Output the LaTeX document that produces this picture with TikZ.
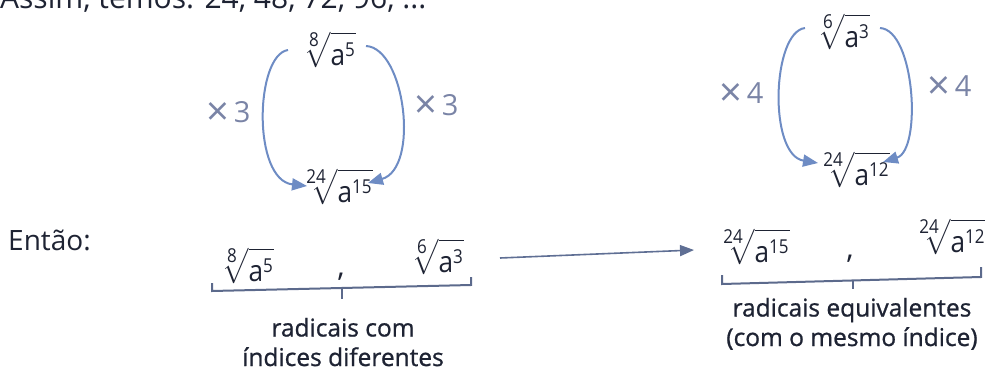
\documentclass[tikz,border=0pt]{standalone}
\usepackage{amsmath}
\usepackage{graphicx}
\usepackage{fontspec}
\setmainfont{Open Sans}
\newfontfamily\capfont[FakeBold=0.9]{Open Sans}
\usetikzlibrary{arrows.meta}
\definecolor{arr}{HTML}{6E8CC4}
\definecolor{lab}{HTML}{7A84A6}
\definecolor{ink}{HTML}{1E2333}
\definecolor{brk}{HTML}{5C6A8C}
\newcommand{\smalldig}[1]{\mbox{\fontsize{6.5}{7}\selectfont #1}}
\newcommand{\myrad}[2]{\scalebox{2.62}[2.95]{\fontsize{10}{12}\selectfont$\sqrt[\smalldig{#1}]{\rule[-0.05em]{0pt}{1.0em}\text{a}^{\smalldig{#2}}}$}}
\newcommand{\mtimes}{\raisebox{-3.5pt}{\fontsize{40}{40}\selectfont ×}}
\tikzset{
  big/.style={font=\fontsize{28}{33}\selectfont, inner sep=0pt, text=ink},
  radnode/.style={font=\fontsize{30}{35}\selectfont, inner sep=0pt, text=ink, anchor=base},
  mult/.style={font=\fontsize{29}{33}\selectfont, inner sep=0pt, text=lab, anchor=base west},
  caption/.style={font=\capfont\fontsize{24.5}{29.5}\selectfont, inner sep=0pt, text=ink, align=center},
  curvearrow/.style={draw=arr, line width=2pt, -{Triangle[length=15pt,width=12pt]}},
  longarrow/.style={draw=brk!85!arr, line width=1.6pt, -{Triangle[length=14pt,width=11pt]}},
  bracket/.style={draw=brk, line width=2pt},
}
\begin{document}
\begin{tikzpicture}[x=1pt,y=-1pt]
\useasboundingbox (0,0) rectangle (985,372);
\clip (0,0) rectangle (985,372);
% top line (cut off)
\node[big, font=\fontsize{30}{35}\selectfont, anchor=base west] (top) at (0,9) {Assim, temos: 24, 48, 72, 96, ...};
% left group
\node[radnode] (r1) at (329,65) {\myrad{8}{5}};
\node[radnode] (r2) at (336,202) {\myrad{24}{15}};
\coordinate (r1l) at (288,50);
\coordinate (r1r) at (366,46);
\coordinate (r2l) at (307,186);
\coordinate (r2r) at (368,183);
\draw[curvearrow] (r1l) .. controls (255,55) and (252,180) .. (r2l);
\draw[curvearrow] (r1r) .. controls (405,48) and (420,168) .. (r2r);
\node[mult] (m1) at (206,122) {\mtimes\,3};
\node[mult] (m2) at (414,115) {\mtimes\,3};
% right group
\node[radnode] (r3) at (843,47) {\myrad{6}{3}};
\node[radnode] (r4) at (853,185) {\myrad{24}{12}};
\coordinate (r3l) at (805,28);
\coordinate (r3r) at (880,28);
\coordinate (r4l) at (818,163);
\coordinate (r4r) at (883,162);
\draw[curvearrow] (r3l) .. controls (772,32) and (768,155) .. (r4l);
\draw[curvearrow] (r3r) .. controls (915,30) and (922,150) .. (r4r);
\node[mult] (m3) at (719,103) {\mtimes\,4};
\node[mult] (m4) at (927,96) {\mtimes\,4};
% bottom row
\node[big, anchor=base west] (entao) at (8,250) {Então:};
\node[radnode] (b1) at (247,281) {\myrad{8}{5}};
\node[radnode] (c1) at (341,276) {,};
\node[radnode] (b2) at (437,272) {\myrad{6}{3}};
\node[radnode] (b3) at (753,262) {\myrad{24}{15}};
\node[radnode] (c2) at (850,258) {,};
\node[radnode] (b4) at (949,252) {\myrad{24}{12}};
\coordinate (hs) at (500,258);
\coordinate (he) at (694,250);
\draw[longarrow] (hs) -- (he);
% brackets
\draw[bracket] (212,283) -- (212,291) -- (471,285) -- (471,277);
\draw[bracket] (342,288) -- (342,299);
\draw[bracket] (722,275) -- (722,284) -- (981,277) -- (981,267);
\draw[bracket] (853,280.5) -- (853,289);
\node[caption, anchor=base] (t1) at (343,366) {radicais com\\índices diferentes};
\node[caption, anchor=base] (t2) at (852,346) {radicais equivalentes\\(com o mesmo índice)};
\end{tikzpicture}
\end{document}
